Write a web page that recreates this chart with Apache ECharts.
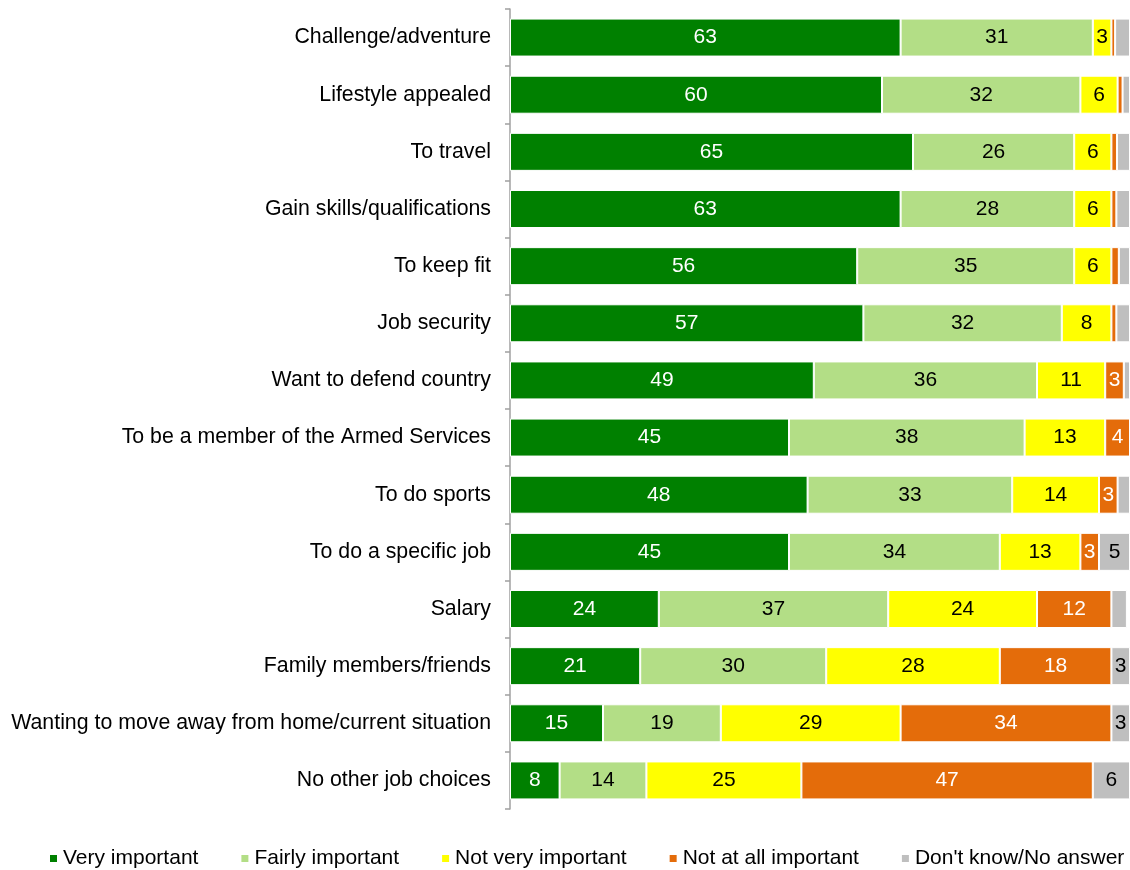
<!DOCTYPE html>
<html>
<head>
<meta charset="utf-8">
<title>Reasons for joining</title>
<script src="https://cdn.jsdelivr.net/npm/echarts@6/dist/echarts.min.js"></script>
<style>
  html, body { margin: 0; padding: 0; background: #fff; overflow: hidden; }
  #chart { width: 1130px; height: 870px; }
</style>
</head>
<body>
<div id="chart"></div>
<script>
// Reasons, top to bottom
const categories = [
  'Challenge/adventure',
  'Lifestyle appealed',
  'To travel',
  'Gain skills/qualifications',
  'To keep fit',
  'Job security',
  'Want to defend country',
  'To be a member of the Armed Services',
  'To do sports',
  'To do a specific job',
  'Salary',
  'Family members/friends',
  'Wanting to move away from home/current situation',
  'No other job choices'
];

// Percentages per response
const veryImportant   = [63, 60, 65, 63, 56, 57, 49, 45, 48, 45, 24, 21, 15, 8];
const fairlyImportant = [31, 32, 26, 28, 35, 32, 36, 38, 33, 34, 37, 30, 19, 14];
const notVery         = [3, 6, 6, 6, 6, 8, 11, 13, 14, 13, 24, 28, 29, 25];
const notAtAll        = [0.6, 0.8, 0.9, 0.8, 1.2, 0.8, 3, 4, 3, 3, 12, 18, 34, 47];
const dontKnow        = [2.4, 1.2, 2.1, 2.2, 1.8, 2.2, 1, 1, 2, 5, 2.5, 3, 3, 6];

const seriesNames = ['Very important', 'Fairly important', 'Not very important', 'Not at all important', "Don't know/No answer"];
const seriesData  = [veryImportant, fairlyImportant, notVery, notAtAll, dontKnow];
const colors      = ['#008000', '#b3de86', '#ffff00', '#e46c0a', '#bfbfbf'];
const labelColors = ['#ffffff', '#000000', '#000000', '#ffffff', '#000000'];

const FONT = '"Liberation Sans", Arial, sans-serif';

const chart = echarts.init(document.getElementById('chart'), null, { renderer: 'canvas' });

chart.setOption({
  animation: false,
  textStyle: { fontFamily: FONT },
  grid: { left: 510, right: -1, top: 9, bottom: 61 },
  xAxis: {
    type: 'value',
    min: 0,
    max: 100,
    show: false
  },
  yAxis: {
    type: 'category',
    inverse: true,
    data: categories,
    axisLine: { show: true, lineStyle: { color: '#a0a0a0', width: 1.5 } },
    axisTick: { show: true, length: 5, lineStyle: { color: '#a0a0a0', width: 1.5 } },
    axisLabel: { color: '#000', fontSize: 21.3, fontFamily: FONT, margin: 19 }
  },
  legend: {
    left: 48,
    top: 848,
    padding: 0,
    icon: 'rect',
    itemWidth: 9,
    itemHeight: 9,
    itemGap: 41,
    textStyle: { color: '#000', fontSize: 21, fontFamily: FONT },
    data: seriesNames
  },
  series: seriesNames.map((name, i) => ({
    name,
    type: 'bar',
    stack: 'total',
    barWidth: 38,
    data: seriesData[i],
    itemStyle: { color: colors[i], borderColor: '#ffffff', borderWidth: 1 },
    label: {
      show: true,
      position: 'inside',
      color: labelColors[i],
      fontSize: 21,
      fontFamily: FONT,
      formatter: p => (p.value >= 3 ? String(p.value) : '')
    }
  }))
});
</script>
</body>
</html>
